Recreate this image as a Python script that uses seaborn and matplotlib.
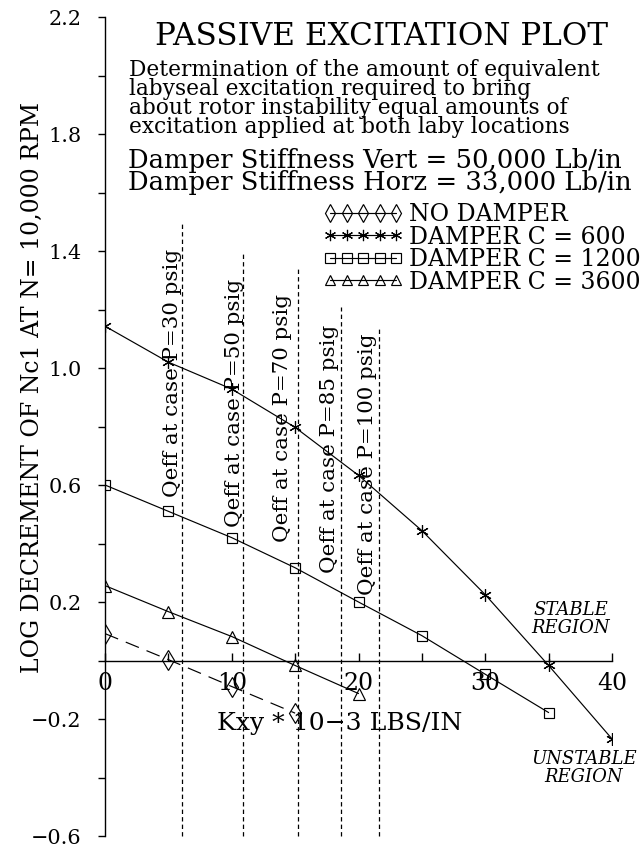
import matplotlib
matplotlib.use("Agg")
import matplotlib.pyplot as plt
import seaborn as sns
from matplotlib.ticker import FixedLocator, NullFormatter

# ---- data -------------------------------------------------------------
kxy = [0, 5, 10, 15, 20, 25, 30, 35, 40]
no_damper = [0.092, 0.003, -0.089, -0.180]
damper_600 = [1.143, 1.020, 0.928, 0.797, 0.633, 0.444, 0.225, -0.017, -0.268]
damper_1200 = [0.600, 0.510, 0.420, 0.317, 0.200, 0.085, -0.047, -0.178]
damper_3600 = [0.256, 0.167, 0.082, -0.017, -0.113]
series_labels = ["NO DAMPER", "DAMPER C = 600", "DAMPER C = 1200", "DAMPER C = 3600"]

case_labels = ["Qeff at case P=30 psig", "Qeff at case P=50 psig",
               "Qeff at case P=70 psig", "Qeff at case P=85 psig",
               "Qeff at case P=100 psig"]
case_kxy = [6.1, 10.9, 15.2, 18.6, 21.6]
case_top = [1.50, 1.40, 1.345, 1.21, 1.145]

y_major = [-0.6, -0.2, 0.2, 0.6, 1.0, 1.4, 1.8, 2.2]
y_minor = [-0.4, 0.0, 0.4, 0.8, 1.2, 1.6, 2.0]
x_major = [0, 10, 20, 30, 40]
x_minor = [5, 15, 25, 35]

title = "PASSIVE EXCITATION PLOT"
note_lines = ["Determination of the amount of equivalent",
              "labyseal excitation required to bring",
              "about rotor instability equal amounts of",
              "excitation applied at both laby locations"]
stiff_lines = ["Damper Stiffness Vert = 50,000 Lb/in",
               "Damper Stiffness Horz = 33,000 Lb/in"]

# ---- figure -----------------------------------------------------------
W, H = 642, 847
sns.set_style("white")
plt.rcParams["font.family"] = ["DejaVu Serif"]
plt.rcParams["axes.unicode_minus"] = True
for key in ["text.color", "axes.labelcolor", "xtick.color", "ytick.color",
            "axes.edgecolor"]:
    plt.rcParams[key] = "black"

fig = plt.figure(figsize=(W / 100, H / 100), dpi=100)
renderer = fig.canvas.get_renderer()


def fx(x):
    return x / W


def fy(y):
    return 1 - y / H


def fit(text, width_px, style="normal"):
    """Font size (pt) that makes `text` span width_px pixels."""
    t = fig.text(0, 0, text, fontsize=10, style=style)
    w = t.get_window_extent(renderer).width
    t.remove()
    return 10 * width_px / w


def pitch_spacing(fs, pitch_px, style="normal"):
    """linespacing giving a baseline-to-baseline distance of pitch_px."""
    t = fig.text(0, 0, "lp", fontsize=fs, style=style)
    _, h, d = renderer.get_text_width_height_descent("lp", t.get_fontproperties(), False)
    t.remove()
    return (pitch_px - d) / (h - d)


Y_TOP, Y_BOT = 17, 836
ax = fig.add_axes([fx(105), 1 - Y_BOT / H, (612 - 105) / W, (Y_BOT - Y_TOP) / H])
ax.set_facecolor("white")

line_kw = dict(color="black", linewidth=0.85, markeredgecolor="black",
               markeredgewidth=0.85, markerfacecolor="none", sort=False)

sns.lineplot(x=kxy[:len(no_damper)], y=no_damper, ax=ax, marker="d",
             markersize=10, linestyle=(0, (12, 7)), label=series_labels[0], **line_kw)
sns.lineplot(x=kxy[:len(damper_600)], y=damper_600, ax=ax, marker=(6, 2, 0),
             markersize=9, label=series_labels[1], **line_kw)
sns.lineplot(x=kxy[:len(damper_1200)], y=damper_1200, ax=ax, marker="s",
             markersize=7.5, label=series_labels[2], **line_kw)
sns.lineplot(x=kxy[:len(damper_3600)], y=damper_3600, ax=ax, marker="^",
             markersize=8.5, label=series_labels[3], **line_kw)

# vertical markers of the equivalent excitation at each pressure case
for xk, top in zip(case_kxy, case_top):
    ax.plot([xk, xk], [-0.6, top], color="black", linewidth=0.9,
            linestyle=(0, (3.5, 2.5)), clip_on=False)

label_x = [5.3, 10.2, 14.0, 17.7, 20.7]
label_y = [0.56, 0.455, 0.405, 0.30, 0.225]
case_fs = fit(case_labels[0], 247)
for txt, lx, ly in zip(case_labels, label_x, label_y):
    ax.text(lx, ly, txt, rotation=90, ha="center", va="bottom", fontsize=case_fs)

# axes: spines through the origin
ax.set_xlim(0, 40)
ax.set_ylim(-0.6, 2.2)
for s in ["top", "right"]:
    ax.spines[s].set_visible(False)
ax.spines["left"].set_position(("data", 0))
ax.spines["bottom"].set_position(("data", 0))
for s in ["left", "bottom"]:
    ax.spines[s].set_linewidth(1.0)
    ax.spines[s].set_color("black")

ax.yaxis.set_major_locator(FixedLocator(y_major))
ax.yaxis.set_minor_locator(FixedLocator(y_minor))
ax.xaxis.set_major_locator(FixedLocator(x_major))
ax.xaxis.set_minor_locator(FixedLocator(x_minor))
ax.set_yticklabels([f"{v:.1f}".replace("-", "\u2212") for v in y_major])
ax.set_xticklabels([str(v) for v in x_major])
ax.xaxis.set_minor_formatter(NullFormatter())
ax.yaxis.set_minor_formatter(NullFormatter())

ytick_fs = fit("\u22120.6", 50)
xtick_fs = fit("40", 30)
ax.tick_params(axis="y", which="both", direction="out", length=5, width=1.0,
               labelsize=ytick_fs, pad=12, left=True, color="black",
               labelcolor="black")
ax.tick_params(axis="x", which="both", direction="in", length=6, width=1.0,
               labelsize=xtick_fs, pad=8, bottom=True, color="black",
               labelcolor="black")

ax_h = Y_BOT - Y_TOP
ylab_fs = fit("LOG DECREMENT OF Nc1 AT N= 10,000 RPM", 569)
ax.set_ylabel("LOG DECREMENT OF Nc1 AT N= 10,000 RPM", fontsize=ylab_fs,
              color="black")
ax.yaxis.set_label_coords((44 - 105) / 507, (Y_BOT - 387) / ax_h)

xlab_fs = fit("Kxy * 10\u22123 LBS/IN", 244)
ax.set_xlabel("Kxy * 10\u22123 LBS/IN", fontsize=xlab_fs, color="black")
ax.xaxis.set_label_coords((340 - 105) / 507, (Y_BOT - 712) / ax_h)

# legend
leg_fs = fit("DAMPER C = 1200", 230)
fs_px = leg_fs * 100 / 72
leg = ax.legend(numpoints=5, markerscale=0.9, frameon=False, fontsize=leg_fs,
                loc="upper left", bbox_to_anchor=(fx(323), fy(203)),
                bbox_transform=fig.transFigure, borderpad=0, borderaxespad=0,
                handlelength=(66 + 0.6 * fs_px) / fs_px,
                handletextpad=0.26, labelspacing=-0.02, labelcolor="black")
for h in leg.legend_handles:
    h.set_linestyle("-")

# header texts (multi-line blocks are anchored on the baseline of their last line)
fig.text(fx(155), fy(45), title, fontsize=fit(title, 450), va="baseline")
note_fs = fit(note_lines[0], 470)
fig.text(fx(129), fy(76 + 19 * (len(note_lines) - 1)), "\n".join(note_lines),
         fontsize=note_fs, va="baseline", linespacing=pitch_spacing(note_fs, 19))
stiff_fs = fit(stiff_lines[0], 494)
fig.text(fx(128), fy(168 + 22 * (len(stiff_lines) - 1)), "\n".join(stiff_lines),
         fontsize=stiff_fs, va="baseline", linespacing=pitch_spacing(stiff_fs, 22))

reg_fs = fit("UNSTABLE", 106, style="italic")
reg_ls = pitch_spacing(reg_fs, 18, style="italic")
fig.text(fx(571), fy(633), "STABLE\nREGION", fontsize=reg_fs, style="italic",
         ha="center", va="baseline", linespacing=reg_ls, multialignment="center")
fig.text(fx(584), fy(782), "UNSTABLE\nREGION", fontsize=reg_fs, style="italic",
         ha="center", va="baseline", linespacing=reg_ls, multialignment="center")

fig.savefig("out.png", dpi=100, facecolor="white")
